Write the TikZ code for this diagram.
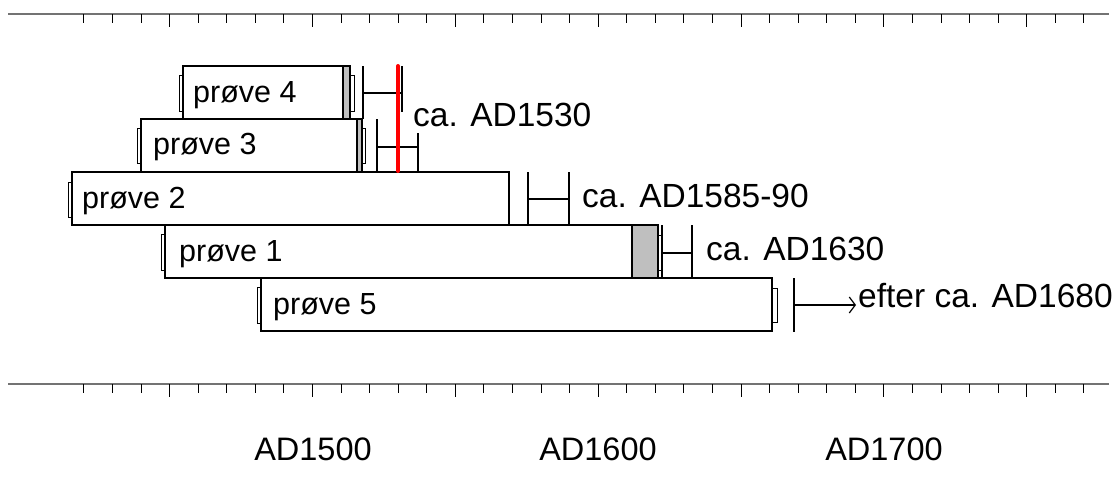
\documentclass[tikz,border=0pt]{standalone}
\usepackage{fontspec}
\setmainfont{Liberation Sans}
\usetikzlibrary{arrows.meta}

\begin{document}
\begin{tikzpicture}[x=1pt, y=-1pt,
  axis/.style={line width=1.2pt, black!55},
  tick/.style={line width=1pt, black},
  bar/.style={draw=black, line width=1.3pt, fill=white},
  sap/.style={draw=black, line width=1.3pt, fill=black!25},
  endcap/.style={draw=black, line width=1pt, fill=white},
  span/.style={line width=1.2pt, black},
  lbl/.style={anchor=base west, inner sep=0pt, font=\fontsize{30.5}{36}\selectfont},
  date/.style={anchor=base west, inner sep=0pt, font=\fontsize{33.5}{40}\selectfont},
  yearlbl/.style={anchor=base, inner sep=0pt, font=\fontsize{32.5}{38}\selectfont}
]
\useasboundingbox (0,0) rectangle (1120,490);

% time axes, one tick per decade
\draw[axis] (8,14) -- (1109,14);
\draw[axis] (8,384) -- (1109,384);
\foreach \yr in {1420,1430,...,1770} {
  \pgfmathsetmacro\tx{312.5+(\yr-1500)*2.857}
  \pgfmathsetmacro\tl{ifthenelse(mod(\yr,50)==0,13,9)}
  \draw[tick] (\tx,14) -- ++(0,\tl);
  \draw[tick] (\tx,384) -- ++(0,\tl);
}
\node[yearlbl] (y15) at (313,460) {AD1500};
\node[yearlbl] (y16) at (598,460) {AD1600};
\node[yearlbl] (y17) at (884,460) {AD1700};

% end caps
\draw[endcap] (179,75) rectangle (183,111);
\draw[endcap] (350,75) rectangle (354,111);
\draw[endcap] (137,128) rectangle (141,163);
\draw[endcap] (362,128) rectangle (365,163);
\draw[endcap] (68,182) rectangle (72,217);
\draw[endcap] (161,234) rectangle (165,270);
\draw[endcap] (658,235) rectangle (662,270);
\draw[endcap] (257,287) rectangle (261,323);
\draw[endcap] (772,288) rectangle (777,322);

% samples
\draw[bar] (183,66) rectangle (350,119);
\draw[sap] (343,66) rectangle (350,119);
\draw[bar] (141,119) rectangle (362,172);
\draw[sap] (357,119) rectangle (362,172);
\draw[bar] (72,172) rectangle (509,225);
\draw[bar] (165,225) rectangle (658,278);
\draw[sap] (632,225) rectangle (658,278);
\draw[bar] (261,278) rectangle (772,331);

\node[lbl] (p4) at (193,102) {prøve 4};
\node[lbl] (p3) at (153,154) {prøve 3};
\node[lbl] (p2) at (82,208) {prøve 2};
\node[lbl] (p1) at (179,261) {prøve 1};
\node[lbl] (p5) at (273,314) {prøve 5};

% felling date ranges
\draw[span] (363,66) -- (363,119) (363,93) -- (402,93) (402,66) -- (402,112);
\draw[span] (377,119) -- (377,172) (377,147) -- (418,147) (418,133) -- (418,172);
\draw[span] (528,172) -- (528,225) (528,199) -- (569,199) (569,172) -- (569,225);
\draw[span] (662,225) -- (662,278) (662,253) -- (692,253) (692,225) -- (692,278);
\draw[span] (794,278) -- (794,332);
\draw[span, -{Straight Barb[length=6pt, width=16pt]}] (794,305) -- (856,305);
\draw[red, line width=4pt, line cap=round] (398,66) -- (398,171);

\node[date] (d4) at (413,126) {ca. AD1530};
\node[date] (d2) at (582,207) {ca. AD1585-90};
\node[date] (d1) at (706,260) {ca. AD1630};
\node[date] (d5) at (858,307) {efter ca. AD1680};
\end{tikzpicture}
\end{document}
